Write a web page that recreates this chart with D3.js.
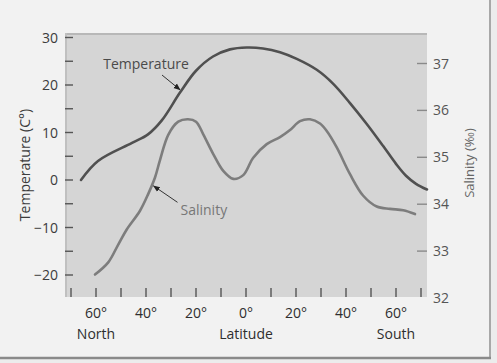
<!DOCTYPE html>
<html><head><meta charset="utf-8">
<script src="https://cdn.jsdelivr.net/npm/d3@7"></script>
<style>html,body{margin:0;padding:0;background:#e8e8e8;}svg{display:block;font-family:"Open Sans",sans-serif;}</style>
</head><body>
<svg id="c" width="497" height="363"></svg>
<script>
// Temperature (°C) by latitude (positive = North, negative = South)
const tempLat = [66, 59.2, 45.6, 39.2, 33.6, 26.4, 20.0, 13.2, 6.4, -0.3, -6.8, -13.6, -20.3, -28.3, -34.8, -41.6, -48.3, -54.8, -60.0, -64.0, -68.0, -72.4];
const tempVal = [0, 4.0, 7.8, 9.6, 12.6, 18.4, 23.0, 26.0, 27.5, 27.9, 27.7, 26.9, 25.5, 23.2, 20.3, 16.2, 11.8, 7.2, 3.4, 0.9, -0.8, -2.0];
// Salinity (‰) by latitude
const salLat = [60.4, 55.1, 51.1, 47.7, 42.4, 39.1, 36.4, 34.4, 31.1, 27.1, 23.2, 20.0, 17.1, 13.1, 9.1, 5.1, 1.1, -2.9, -8.3, -13.6, -17.6, -21.6, -25.6, -29.6, -32.3, -36.3, -41.6, -46.9, -52.3, -57.6, -62.9, -67.6];
const salVal = [32.50, 32.76, 33.14, 33.46, 33.86, 34.22, 34.57, 34.94, 35.48, 35.76, 35.81, 35.76, 35.49, 35.07, 34.71, 34.54, 34.62, 34.99, 35.28, 35.43, 35.58, 35.77, 35.81, 35.72, 35.56, 35.21, 34.64, 34.18, 33.95, 33.90, 33.87, 33.79];
// Axis ticks
const latTicks = [70, 60, 50, 40, 30, 20, 10, 0, -10, -20, -30, -40, -50, -60, -70];
const latLabels = [60, 40, 20, 0, -20, -40, -60];
const tempTicks = [30, 25, 20, 15, 10, 5, 0, -5, -10, -15, -20];
const tempLabels = [30, 20, 10, 0, -10, -20];
const salTicks = [33, 34, 35, 36, 37];
const salLabels = [32, 33, 34, 35, 36, 37];

const svg = d3.select("#c");
const P = {l: 65, r: 427, t: 33, b: 297};

const x = d3.scaleLinear().domain([72.4, -72.4]).range([P.l, P.r]);
const yT = d3.scaleLinear().domain([-20, 30]).range([275, 37.5]);
const yS = d3.scaleLinear().domain([32, 37]).range([298, 63.5]);

// outer panel
svg.append("rect").attr("x",0).attr("y",0).attr("width",497).attr("height",363).attr("fill","#ececec");
svg.append("rect").attr("x",0).attr("y",0).attr("width",490).attr("height",357).attr("fill","#f2f2f2");
svg.append("line").attr("x1",490).attr("x2",490).attr("y1",0).attr("y2",358).attr("stroke","#a8a8a8").attr("stroke-width",2);
svg.append("line").attr("x1",0).attr("x2",491).attr("y1",358).attr("y2",358).attr("stroke","#8a8a8a").attr("stroke-width",2.5);

// plot area
svg.append("rect").attr("x",P.l).attr("y",P.t).attr("width",P.r-P.l).attr("height",P.b-P.t).attr("fill","#d5d5d5");
svg.append("line").attr("x1",P.l).attr("x2",P.r).attr("y1",P.t+1).attr("y2",P.t+1).attr("stroke","#b8b8b8").attr("stroke-width",2);
svg.append("line").attr("x1",P.l+1).attr("x2",P.l+1).attr("y1",P.t).attr("y2",P.b).attr("stroke","#c0c0c0").attr("stroke-width",2);

// left ticks (inward)
svg.append("g").selectAll("line").data(tempTicks).join("line")
  .attr("x1",P.l).attr("x2",P.l+8).attr("y1",d=>yT(d)).attr("y2",d=>yT(d))
  .attr("stroke","#555").attr("stroke-width",1.4);
svg.append("g").selectAll("text").data(tempLabels).join("text")
  .attr("x",58).attr("y",d=>yT(d)).attr("dy","0.36em").attr("text-anchor","end")
  .attr("font-size",14).attr("fill","#3c3c3c")
  .text(d=> d<0 ? "\u2212"+Math.abs(d) : d);
svg.append("text").attr("transform","translate(30,165) rotate(-90)")
  .attr("text-anchor","middle").attr("font-size",14).attr("fill","#3c3c3c")
  .text("Temperature (C°)");

// right ticks (inward)
svg.append("g").selectAll("line").data(salTicks).join("line")
  .attr("x1",P.r-10).attr("x2",P.r).attr("y1",d=>yS(d)).attr("y2",d=>yS(d))
  .attr("stroke","#8a8a8a").attr("stroke-width",1.4);
svg.append("g").selectAll("text").data(salLabels).join("text")
  .attr("x",433).attr("y",d=>yS(d)).attr("dy","0.36em").attr("text-anchor","start")
  .attr("font-size",14).attr("fill","#555")
  .text(d=>d);
svg.append("text").attr("transform","translate(474,163) rotate(-90)")
  .attr("text-anchor","middle").attr("font-size",13).attr("fill","#666")
  .text("Salinity (‰)");

// bottom ticks (inward)
svg.append("g").selectAll("line").data(latTicks).join("line")
  .attr("x1",d=>x(d)).attr("x2",d=>x(d)).attr("y1",P.b-9).attr("y2",P.b)
  .attr("stroke","#555").attr("stroke-width",1.4);
svg.append("g").selectAll("text").data(latLabels).join("text")
  .attr("x",d=>x(d)).attr("y",318).attr("text-anchor","middle")
  .attr("font-size",14).attr("fill","#2e2e2e")
  .text(d=>Math.abs(d)+"°");
svg.append("text").attr("x",x(60)).attr("y",339).attr("text-anchor","middle").attr("font-size",14).attr("fill","#2e2e2e").text("North");
svg.append("text").attr("x",x(0)).attr("y",339).attr("text-anchor","middle").attr("font-size",14).attr("fill","#2e2e2e").text("Latitude");
svg.append("text").attr("x",x(-60)).attr("y",339).attr("text-anchor","middle").attr("font-size",14).attr("fill","#2e2e2e").text("South");

// lines
const tempData = tempLat.map((d,i)=>[d,tempVal[i]]);
const salData = salLat.map((d,i)=>[d,salVal[i]]);
svg.append("path").datum(salData)
  .attr("d", d3.line().x(d=>x(d[0])).y(d=>yS(d[1])).curve(d3.curveCatmullRom))
  .attr("fill","none").attr("stroke","#7d7d7d").attr("stroke-width",2.6).attr("stroke-linecap","round");
svg.append("path").datum(tempData)
  .attr("d", d3.line().x(d=>x(d[0])).y(d=>yT(d[1])).curve(d3.curveCatmullRom))
  .attr("fill","none").attr("stroke","#505050").attr("stroke-width",2.6).attr("stroke-linecap","round");

// annotations
const defs = svg.append("defs");
defs.append("marker").attr("id","ah").attr("viewBox","0 0 10 10").attr("refX",9).attr("refY",5)
  .attr("markerWidth",7).attr("markerHeight",7).attr("orient","auto")
  .append("path").attr("d","M0,1 L10,5 L0,9 Z").attr("fill","#222");

svg.append("line").attr("x1",x(33.6)).attr("y1",yT(22.1)).attr("x2",x(26.4)).attr("y2",yT(19.0))
  .attr("stroke","#333").attr("stroke-width",1).attr("marker-end","url(#ah)");
svg.append("text").attr("x",x(40)).attr("y",yT(23.3)).attr("text-anchor","middle")
  .attr("font-size",14).attr("fill","#4a4a4a").text("Temperature");

svg.append("line").attr("x1",x(27.4)).attr("y1",yS(34.04)).attr("x2",x(37.0)).attr("y2",yS(34.39))
  .attr("stroke","#333").attr("stroke-width",1).attr("marker-end","url(#ah)");
svg.append("text").attr("x",x(26.2)).attr("y",yS(33.77)).attr("text-anchor","start")
  .attr("font-size",14).attr("fill","#777").text("Salinity");
</script>
</body></html>
